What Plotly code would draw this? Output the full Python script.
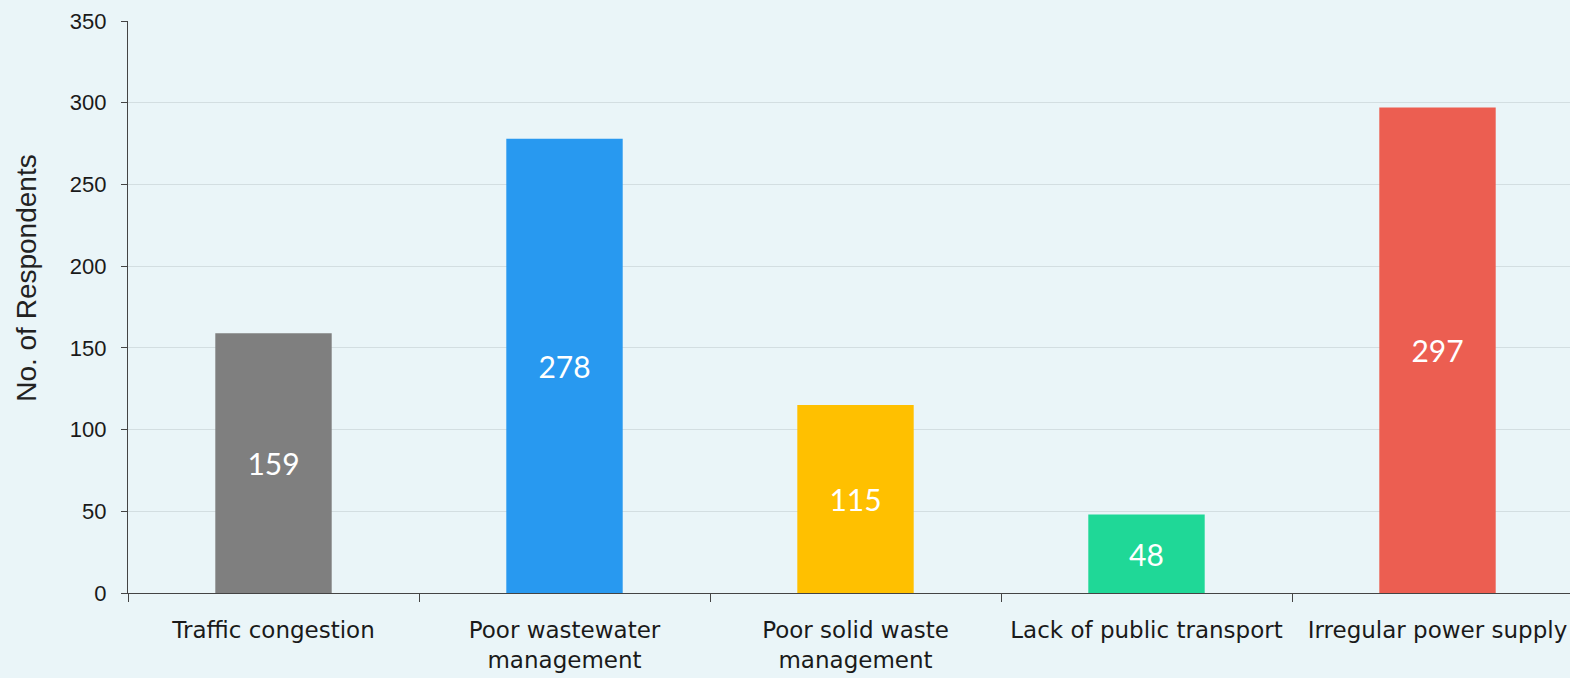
import plotly.graph_objects as go

categories = [
    "Traffic congestion",
    "Poor wastewater<br>management",
    "Poor solid waste<br>management",
    "Lack of public transport",
    "Irregular power supply",
]
respondents = [159, 278, 115, 48, 297]
bar_colors = ["#7f7f7f", "#2899f0", "#ffc000", "#1fd897", "#ec5e51"]
y_ticks = [0, 50, 100, 150, 200, 250, 300, 350]
y_title = "No. of Respondents"

BG = "#eaf5f8"
AXIS = "#444444"

fig = go.Figure(
    go.Bar(
        x=categories,
        y=respondents,
        marker=dict(color=bar_colors, line=dict(width=0)),
        width=0.4,
        text=[str(v) for v in respondents],
        textposition="inside",
        insidetextanchor="middle",
        textangle=0,
        textfont=dict(family="Lato, Inter, sans-serif", size=30, color="white"),
    )
)

fig.update_layout(
    width=1570,
    height=678,
    margin=dict(l=128, r=0, t=21, b=85),
    paper_bgcolor=BG,
    plot_bgcolor=BG,
    showlegend=False,
    uniformtext=dict(mode=False),
)

fig.update_xaxes(
    type="category",
    range=[-0.5, -0.5 + 1442 / 291],
    showline=True,
    linecolor=AXIS,
    linewidth=1.2,
    ticks="outside",
    tickson="boundaries",
    ticklen=8,
    tickcolor=AXIS,
    tickangle=0,
    showgrid=False,
    automargin=False,
    tickfont=dict(family="DejaVu Sans, sans-serif", size=23, color="#1a1a1a"),
    ticklabelstandoff=16,
)

fig.update_yaxes(
    range=[0, 350],
    tickvals=y_ticks,
    showline=True,
    linecolor=AXIS,
    linewidth=1.2,
    ticks="outside",
    ticklen=6,
    tickcolor=AXIS,
    showgrid=True,
    gridcolor="#d3dee1",
    gridwidth=1.2,
    zeroline=False,
    automargin=False,
    tickfont=dict(family="Liberation Sans, Arial, sans-serif", size=22, color="#1a1a1a"),
    ticklabelstandoff=10,
)

# vertical axis title, sitting a little above the plot's mid-height
fig.add_annotation(
    text=y_title,
    xref="paper",
    yref="paper",
    x=0,
    y=0.551,
    xanchor="center",
    yanchor="middle",
    xshift=-101,
    textangle=-90,
    showarrow=False,
    font=dict(family="Liberation Sans, Arial, sans-serif", size=28, color="#222222"),
)

fig.write_html("out.html")
